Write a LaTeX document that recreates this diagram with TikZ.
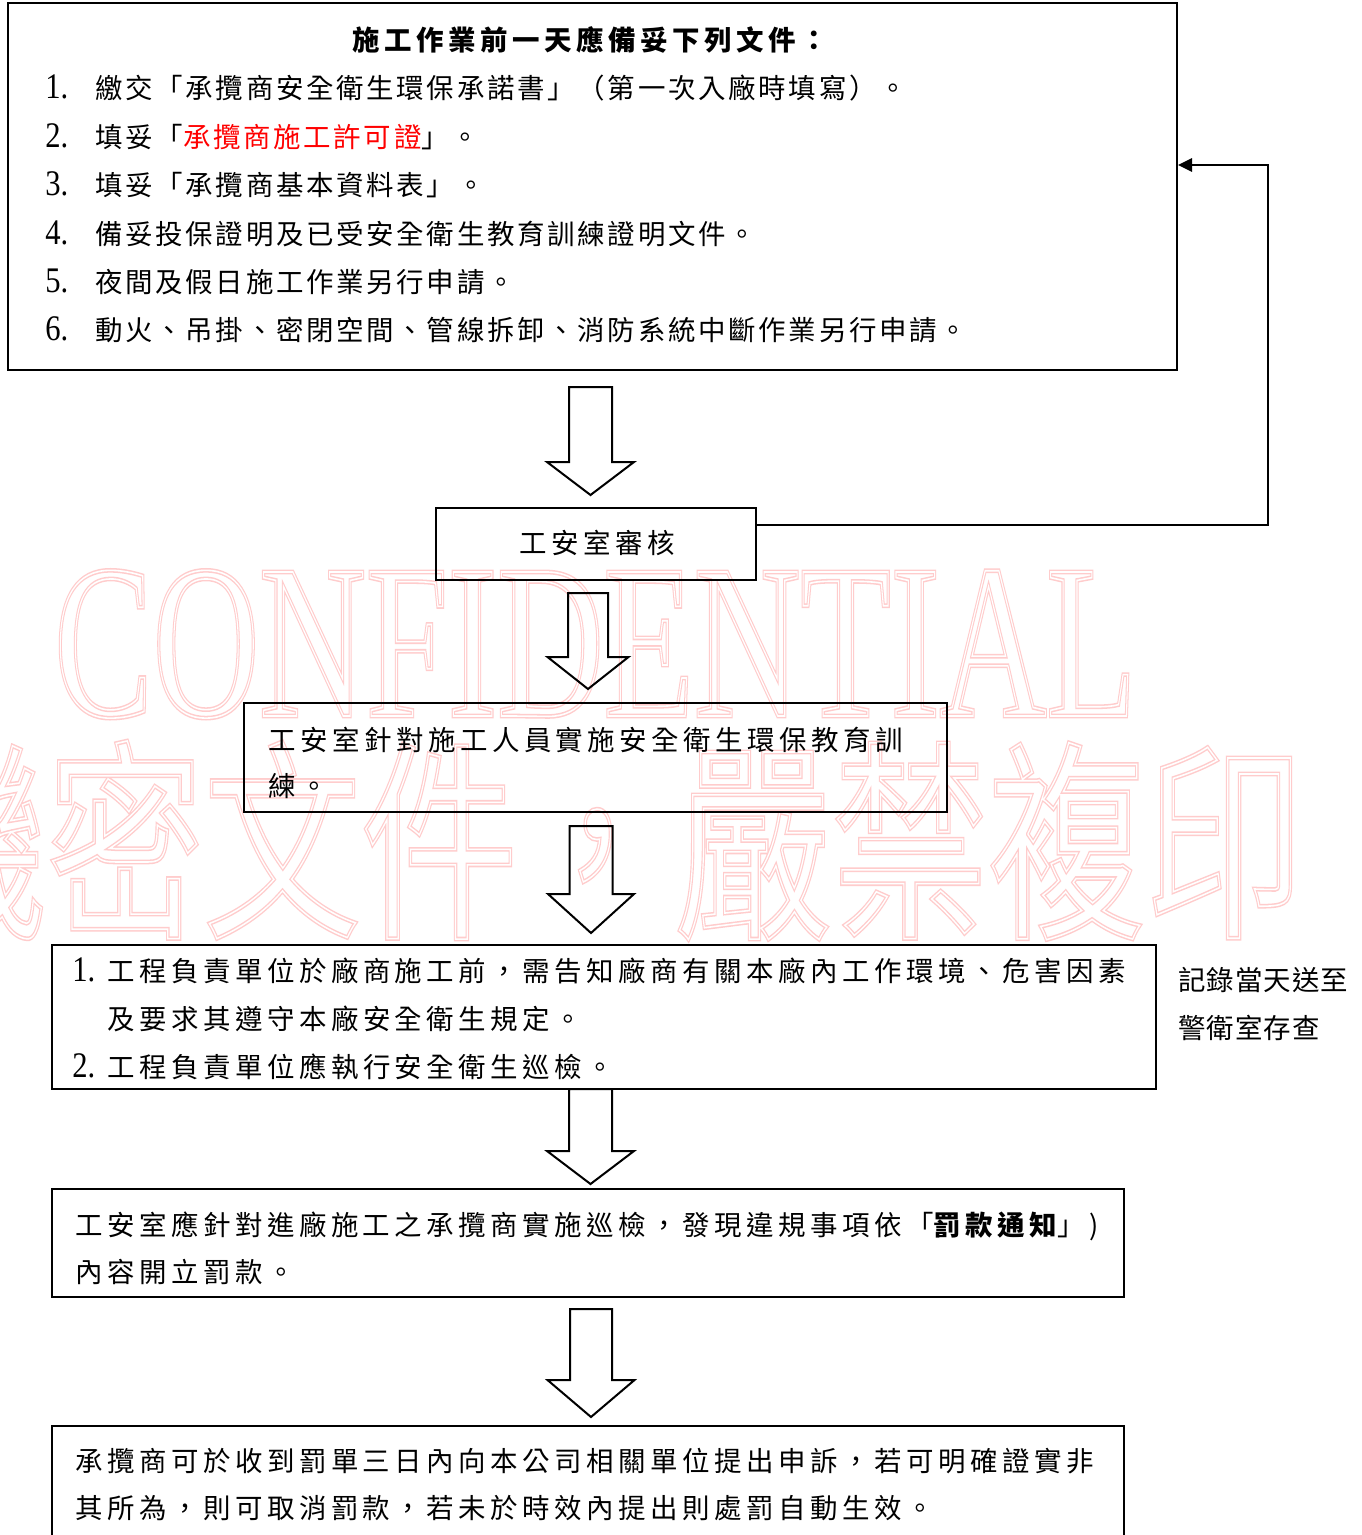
\documentclass[tikz,border=0pt]{standalone}
\usepackage{fontspec}
\usepackage{graphicx}
\usetikzlibrary{arrows.meta,fit}
\setmainfont{Liberation Serif}
\newfontfamily\cjkA[LetterSpace=9.8]{Noto Sans CJK TC}
\newfontfamily\cjkB[LetterSpace=16.4]{Noto Sans CJK TC}
\newfontfamily\cjkC[LetterSpace=3.6]{Noto Sans CJK TC}
\newfontfamily\wmcjk{Noto Sans CJK TC}
\newfontfamily\numfont{Liberation Serif}
\definecolor{wmpink}{RGB}{255,204,204}
\definecolor{redtxt}{RGB}{255,0,0}
\newcommand\txtA{\cjkA\fontsize{20.6pt}{24pt}\selectfont}
\newcommand\txtB{\cjkB\fontsize{20.6pt}{24pt}\selectfont}
\newcommand\txtC{\cjkC\fontsize{20.6pt}{24pt}\selectfont}
\newcommand\numf{\numfont\fontsize{27pt}{30pt}\selectfont}
\newcommand\nm[1]{\scalebox{0.85}[1]{#1}}
\newcommand\wmstroke[2]{\special{pdf:literal direct 1 Tr #1 w}#2\special{pdf:literal direct 0 Tr}}
\newcommand\blockarr[6]{%
  \draw[barrow] ({#1-#2},#3) -- ({#1+#2},#3) -- ({#1+#2},#4) -- ({#1+#5},#4)
    -- (#1,#6) -- ({#1-#5},#4) -- ({#1-#2},#4) -- cycle;}
\begin{document}
\begin{tikzpicture}[x=0.75pt,y=-0.75pt,
  box/.style={draw, line width=1.5pt, inner sep=0pt, rectangle},
  conn/.style={line width=1.5pt},
  barrow/.style={line width=1.5pt, line join=miter},
  ta/.style={anchor=base west, inner sep=0pt, font=\txtA},
  tb/.style={anchor=base west, inner sep=0pt, font=\txtB},
  tc/.style={anchor=base west, inner sep=0pt, font=\txtC},
  num/.style={anchor=base west, inner sep=0pt, font=\numf},
  wm/.style={anchor=base west, inner sep=0pt}]
\useasboundingbox (0,0) rectangle (1361,1535);
\clip (0,0) rectangle (1361,1535);
\fill[white] (0,0) rectangle (1361,1535);

% watermark
\node[wm, text=wmpink] (wmA) at (54,716)
  {\scalebox{0.671}[1]{\fontsize{165pt}{170pt}\selectfont\wmstroke{3.5}{CONFIDENTIAL}}};
\node[wm, text=white] (wmAi) at (54,716)
  {\scalebox{0.671}[1]{\fontsize{165pt}{170pt}\selectfont\wmstroke{1.2}{CONFIDENTIAL}}};
\node[wm, text=wmpink] (wmB) at (-110.5,922)
  {\scalebox{0.737}[1]{\wmcjk\fontsize{159.75pt}{165pt}\selectfont\wmstroke{3.5}{機密文件，嚴禁複印}}};
\node[wm, text=white] (wmBi) at (-110.5,922)
  {\scalebox{0.737}[1]{\wmcjk\fontsize{159.75pt}{165pt}\selectfont\wmstroke{1.2}{機密文件，嚴禁複印}}};

% boxes
\node[box, fit={(8,3) (1177,370)}] (b1) {};
\node[box, fit={(436,508) (756,580)}] (b2) {};
\node[box, fit={(244,703) (947,812)}] (b3) {};
\node[box, fit={(52,945) (1156,1089)}] (b4) {};
\node[box, fit={(52,1189) (1124,1297)}] (b5) {};
\node[box, fit={(52,1426) (1124,1600)}] (b6) {};

% box 1 text
\node[tb, anchor=base] (ttl) at (590,50.5) {\bfseries 施工作業前一天應備妥下列文件：};
\node[num] (n1) at (45,98.5) {\nm{1.}};
\node[ta] (l1) at (95,98.5) {繳交「承攬商安全衛生環保承諾書」（第一次入廠時填寫）。};
\node[num] (n2) at (45,147) {\nm{2.}};
\node[ta] (l2) at (95,147) {填妥「{\color{redtxt}承攬商施工許可證}」。};
\node[num] (n3) at (45,195.5) {\nm{3.}};
\node[ta] (l3) at (95,195.5) {填妥「承攬商基本資料表」。};
\node[num] (n4) at (45,244) {\nm{4.}};
\node[ta] (l4) at (95,244) {備妥投保證明及已受安全衛生教育訓練證明文件。};
\node[num] (n5) at (45,292.5) {\nm{5.}};
\node[ta] (l5) at (95,292.5) {夜間及假日施工作業另行申請。};
\node[num] (n6) at (45,340.5) {\nm{6.}};
\node[ta] (l6) at (95,340.5) {動火、吊掛、密閉空間、管線拆卸、消防系統中斷作業另行申請。};

% box 2 text
\node[tb] (t2) at (519,553.5) {工安室審核};

% box 3 text
\node[tb] (t3a) at (268,750.5) {工安室針對施工人員實施安全衛生環保教育訓};
\node[tb] (t3b) at (268,796) {練。};

% box 4 text
\node[num] (m1) at (72,981.5) {\nm{1.}};
\node[tb] (t4a) at (107,981.5) {工程負責單位於廠商施工前，需告知廠商有關本廠內工作環境、危害因素};
\node[tb] (t4b) at (107,1029.5) {及要求其遵守本廠安全衛生規定。};
\node[num] (m2) at (72,1077.5) {\nm{2.}};
\node[tb] (t4c) at (107,1077.5) {工程負責單位應執行安全衛生巡檢。};

% side note
\node[tc] (s1) at (1178,990.5) {記錄當天送至};
\node[tc] (s2) at (1178,1038.5) {警衛室存查};

% box 5 text
\node[tb] (t5a) at (75,1235.5) {工安室應針對進廠施工之承攬商實施巡檢，發現違規事項依「{\bfseries 罰款通知}」)};
\node[tb] (t5b) at (75,1282.5) {內容開立罰款。};

% box 6 text
\node[tb] (t6a) at (75,1471.5) {承攬商可於收到罰單三日內向本公司相關單位提出申訴，若可明確證實非};
\node[tb] (t6b) at (75,1518.5) {其所為，則可取消罰款，若未於時效內提出則處罰自動生效。};

% block arrows
\blockarr{590.5}{21.5}{387}{462}{43.5}{495}
\blockarr{588}{20}{593}{657}{40.5}{689}
\blockarr{591}{21.5}{826}{894}{43}{933}
\blockarr{590.5}{21.5}{1089}{1151}{43.5}{1184}
\blockarr{591}{21}{1309}{1380}{43.5}{1417}

% feedback connector
\coordinate (c1) at (1268,525);
\coordinate (c2) at (1268,165);
\draw[conn, -{Triangle[length=10.5pt,width=10pt]}] (b2.east |- c1) -- (c1) -- (c2) -- (b1.east |- c2);
\end{tikzpicture}
\end{document}
